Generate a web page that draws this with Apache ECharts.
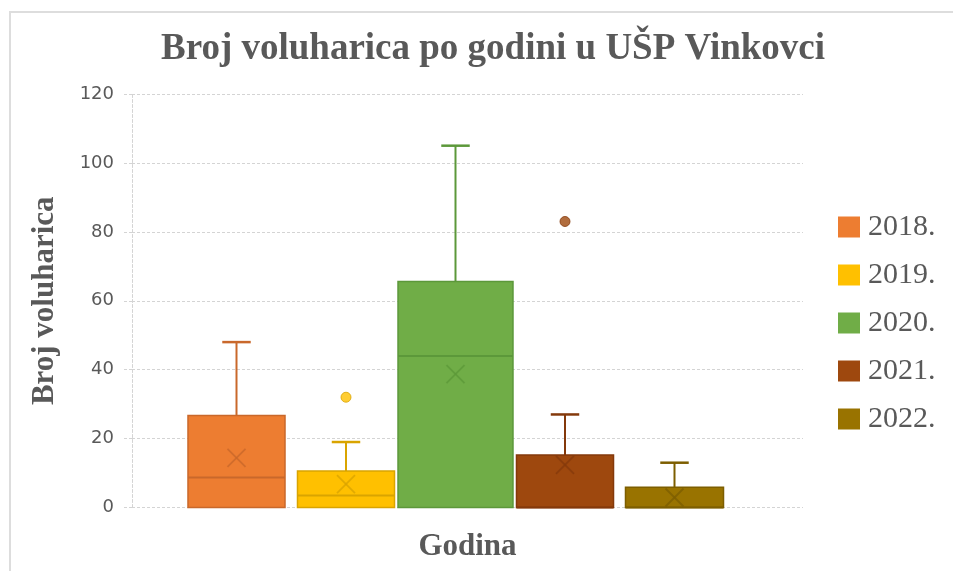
<!DOCTYPE html>
<html>
<head>
<meta charset="utf-8">
<title>Broj voluharica po godini</title>
<script src="https://cdn.jsdelivr.net/npm/echarts@6/dist/echarts.min.js"></script>
<style>
  html, body { margin: 0; padding: 0; background: #fff; }
  #main { width: 953px; height: 571px; }
</style>
</head>
<body>
<div id="main"></div>
<script>
// podaci (procjena s grafa)
const years = ['2018.', '2019.', '2020.', '2021.', '2022.'];
const minVals = [0, 0, 0, 0, 0];
const q1Vals = [0, 0, 0, 0, 0];
const medianVals = [8.7, 3.5, 44, 0, 0];
const q3Vals = [26.7, 10.6, 65.6, 15.2, 5.9];
const maxVals = [48, 19, 105, 27, 13];
const meanVals = [14.4, 6.8, 38.7, 12.4, 2.9];
const outlierVals = [[], [32], [], [83], []];
const yTicks = { min: 0, max: 120, interval: 20 };

// stil
const fills = ['#ED7D31', '#FFC000', '#70AD47', '#9E480E', '#997300'];
const edges = ['#C9682B', '#D9A400', '#5C983A', '#84390B', '#7D5E00'];
const boxScale = [0.886, 0.886, 1.05, 0.886, 0.895];
const serif = 'Liberation Serif';
const grey = '#595959';

function fnRender(i) {
  return function (params, api) {
    const x = api.value(0);
    const lo = api.coord([x, api.value(1)]);
    const q1 = api.coord([x, api.value(2)]);
    const med = api.coord([x, api.value(3)]);
    const q3 = api.coord([x, api.value(4)]);
    const hi = api.coord([x, api.value(5)]);
    const mean = api.coord([x, api.value(6)]);
    const band = api.size([1, 0])[0];
    const cx = hi[0];
    const w = band * boxScale[i];
    const cap = band * 0.13;
    const xs = 9;
    const line = (x1, y1, x2, y2, lw, op) => ({
      type: 'line',
      shape: { x1: x1, y1: y1, x2: x2, y2: y2 },
      style: { stroke: edges[i], lineWidth: lw, opacity: op || 1 }
    });
    let parts = [
      line(cx, hi[1], cx, q3[1], 2),
      line(cx - cap, hi[1], cx + cap, hi[1], 2.5)
    ];
    // donji brk samo ako postoji
    if (lo[1] - q1[1] > 0.5) {
      parts.push(line(cx, lo[1], cx, q1[1], 2));
      parts.push(line(cx - cap, lo[1], cx + cap, lo[1], 2.5));
    }
    parts.push({
      type: 'rect',
      shape: { x: cx - w / 2, y: q3[1], width: w, height: q1[1] - q3[1] },
      style: { fill: fills[i], stroke: edges[i], lineWidth: 1.5 }
    });
    parts.push(line(cx - w / 2, med[1], cx + w / 2, med[1], 2));
    parts.push(line(cx - xs, mean[1] - xs, cx + xs, mean[1] + xs, 1.8, 0.8));
    parts.push(line(cx - xs, mean[1] + xs, cx + xs, mean[1] - xs, 1.8, 0.8));
    return { type: 'group', children: parts };
  };
}

let series = [];
years.forEach((y, i) => {
  series.push({
    name: y,
    type: 'custom',
    xAxisIndex: 0,
    yAxisIndex: 0,
    itemStyle: { color: fills[i], borderColor: edges[i] },
    encode: { x: 0, y: [1, 2, 3, 4, 5, 6] },
    renderItem: fnRender(i),
    data: [[y, minVals[i], q1Vals[i], medianVals[i], q3Vals[i], maxVals[i], meanVals[i]]]
  });
  if (outlierVals[i].length) {
    series.push({
      name: y,
      type: 'scatter',
      xAxisIndex: 0,
      yAxisIndex: 0,
      symbolSize: 10,
      itemStyle: { color: fills[i], borderColor: edges[i], borderWidth: 1 },
      data: outlierVals[i].map(v => [y, v])
    });
  }
});

const dashed = { color: '#D4D4D4', width: 1, type: [3, 2] };

const option = {
  animation: false,
  backgroundColor: '#fff',
  title: {
    text: 'Broj voluharica po godini u UŠP Vinkovci',
    left: 488,
    top: 26,
    textAlign: 'center',
    textStyle: { fontFamily: serif, fontWeight: 'bold', fontSize: 37, color: grey }
  },
  legend: {
    orient: 'vertical',
    left: 833,
    top: 207,
    icon: 'rect',
    itemWidth: 22,
    itemHeight: 21,
    itemGap: 18,
    data: years,
    textStyle: { fontFamily: serif, fontSize: 30, color: grey, padding: [0, 0, 0, 3] }
  },
  grid: [
    { left: 181.75, right: 223.75, top: 94, bottom: 63.5 },
    { left: 132, right: 150, top: 94, bottom: 63.5 }
  ],
  xAxis: [
    { type: 'category', gridIndex: 0, data: years, show: false },
    {
      type: 'category',
      gridIndex: 1,
      data: [''],
      axisLine: { show: false },
      axisTick: { show: false },
      axisLabel: { show: false },
      name: 'Godina',
      nameLocation: 'middle',
      nameGap: 24,
      nameTextStyle: { fontFamily: serif, fontWeight: 'bold', fontSize: 31, color: grey }
    }
  ],
  yAxis: [
    {
      type: 'value', gridIndex: 0, show: false,
      min: yTicks.min, max: yTicks.max, interval: yTicks.interval
    },
    {
      type: 'value',
      gridIndex: 1,
      min: yTicks.min,
      max: yTicks.max,
      interval: yTicks.interval,
      axisLine: { show: true, lineStyle: dashed },
      axisTick: { show: true, length: 9, lineStyle: dashed },
      splitLine: { lineStyle: dashed },
      axisLabel: { fontFamily: 'DejaVu Sans', fontSize: 18, color: grey, margin: 18 },
      name: 'Broj voluharica',
      nameLocation: 'middle',
      nameRotate: 90,
      nameGap: 72,
      nameTextStyle: { fontFamily: serif, fontWeight: 'bold', fontSize: 31, color: grey }
    }
  ],
  graphic: [{
    type: 'rect',
    shape: { x: 10, y: 12, width: 960, height: 600 },
    style: { fill: 'none', stroke: '#DDDDDD', lineWidth: 2 },
    silent: true
  }],
  series: series
};

const chart = echarts.init(document.getElementById('main'));
chart.setOption(option);
</script>
</body>
</html>
